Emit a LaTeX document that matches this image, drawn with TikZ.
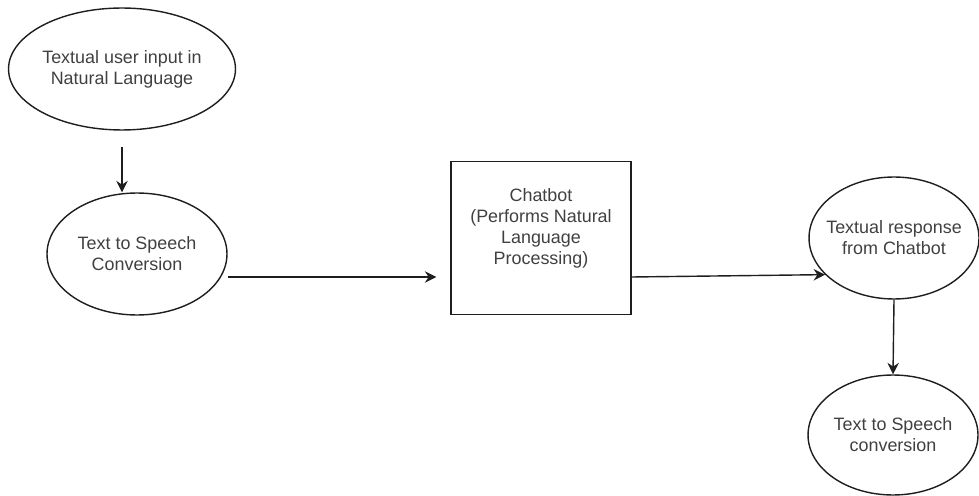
\documentclass[tikz,border=0pt]{standalone}
\usepackage{fontspec}
\setmainfont{Liberation Sans}
\usetikzlibrary{arrows.meta,positioning,shapes.geometric}
\definecolor{ink}{HTML}{1E1E1E}
\definecolor{txt}{HTML}{404040}
\tikzset{io/.style={ellipse,draw=ink,line width=.8pt,inner sep=0pt,
    minimum height=2.44cm,align=center,text=txt,
    font=\fontsize{10.2}{12}\selectfont},
  proc/.style={rectangle,draw=ink,line width=.8pt,inner sep=0pt,
    minimum width=3.6cm,minimum height=3.06cm},
  flow/.style={draw=ink,line width=.8pt,-{Stealth[length=6.5pt,width=6.5pt]}}}

\begin{document}
\begin{tikzpicture}[x=.02cm,y=-.02cm]
\useasboundingbox (0,0) rectangle (979,496);

% Input side.
\node[io,minimum width=4.54cm] (input) at (122,69)
  {Textual user input in\\Natural Language};
\node[io,minimum width=3.6cm] (tts) at (137,254)
  {Text to Speech\\Conversion};

% The chatbot itself.
\node[proc,label={[align=center,text=txt,font=\fontsize{10.2}{12}\selectfont,
  yshift=.2cm]center:Chatbot\\(Performs Natural\\Language\\Processing)}]
  (bot) at (541,238) {};

% Output side.
\node[io,minimum width=3.4cm,inner xsep=-.5cm] (resp) at (894,238)
  {Textual response\\from Chatbot};
\node[io,minimum width=3.4cm,minimum height=2.4cm] (speech) at (893,435)
  {Text to Speech\\conversion};

% Connectors.
\coordinate (a1) at (122,147);
\coordinate (a2) at (228,277);
\draw[flow] (a1) -- (a1 |- tts.north);
\draw[flow] (a2) -- ([xshift=-.28cm]bot.west |- a2);
\draw[flow] (bot.east |- a2) -- (resp.208);
\draw[flow] (resp.south) -- (speech.north);
\end{tikzpicture}
\end{document}
